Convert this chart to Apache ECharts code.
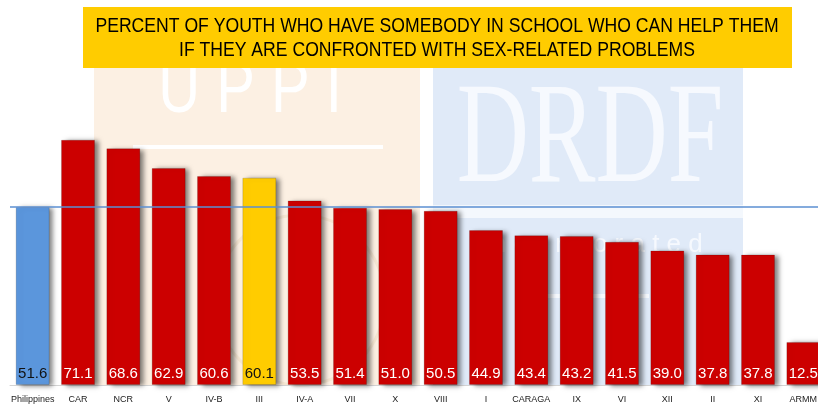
<!DOCTYPE html>
<html>
<head>
<meta charset="utf-8">
<script src="https://cdn.jsdelivr.net/npm/echarts@6/dist/echarts.min.js"></script>
<style>
  html, body { margin: 0; padding: 0; background: #fff; overflow: hidden; }
  /* plot runs a few px past the right edge, like the original slide */
  #chart { width: 826px; height: 406px; }
</style>
</head>
<body>
<div id="chart"></div>
<script>
var regions = ['Philippines', 'CAR', 'NCR', 'V', 'IV-B', 'III', 'IV-A', 'VII', 'X', 'VIII', 'I', 'CARAGA', 'IX', 'VI', 'XII', 'II', 'XI', 'ARMM'];
var percents = [51.6, 71.1, 68.6, 62.9, 60.6, 60.1, 53.5, 51.4, 51.0, 50.5, 44.9, 43.4, 43.2, 41.5, 39.0, 37.8, 37.8, 12.5];
var nationalAvg = 51.6;
var titleLines = ['PERCENT OF YOUTH WHO HAVE SOMEBODY IN SCHOOL WHO CAN HELP THEM', 'IF THEY ARE CONFRONTED WITH SEX-RELATED PROBLEMS'];

var sans = '"Liberation Sans", Arial, sans-serif';

function barColor(name) {
  if (name == 'Philippines') return '#5b96dc';
  if (name == 'III') return '#ffcc00';
  return '#cc0000';
}

var chart = echarts.init(document.getElementById('chart'));

var data = [];
for (var i = 0; i < regions.length; i++) {
  var dark = regions[i] == 'Philippines' || regions[i] == 'III';
  data.push({
    value: percents[i],
    itemStyle: { color: barColor(regions[i]) },
    label: { color: dark ? '#111' : '#fff' }
  });
}

chart.setOption({
  animation: false,
  graphic: [
    // faint watermark blocks behind the plot
    { type: 'rect', z: -10, shape: { x: 94, y: 68, width: 326, height: 318 }, style: { fill: '#fcf0e3' } },
    { type: 'text', z: -9, x: 250, y: 92, scaleY: 1.25, style: { text: 'U P P I', fill: '#ffffff', font: '58px ' + sans, align: 'center', verticalAlign: 'middle' } },
    { type: 'rect', z: -9, shape: { x: 133, y: 145, width: 250, height: 4 }, style: { fill: '#ffffff' } },
    { type: 'circle', z: -9, shape: { cx: 300, cy: 300, r: 85 }, style: { fill: 'none', stroke: '#f5e6d2', lineWidth: 3 } },
    { type: 'rect', z: -10, shape: { x: 433, y: 68, width: 310, height: 318 }, style: { fill: '#e0eaf8' } },
    { type: 'text', z: -9, x: 590, y: 143, scaleY: 1.45, style: { text: 'DRDF', fill: '#f6f9fe', font: '100px "Liberation Serif", serif', align: 'center', verticalAlign: 'middle' } },
    { type: 'rect', z: -9, shape: { x: 433, y: 205, width: 310, height: 13 }, style: { fill: '#f4f8fd' } },
    { type: 'text', z: -9, x: 590, y: 245, style: { text: 'I n c o r p o r a t e d', fill: '#f6f9fe', font: '26px ' + sans, align: 'center', verticalAlign: 'middle' } },
    { type: 'rect', z: -9, shape: { x: 528, y: 294, width: 121, height: 4 }, style: { fill: '#f6f9fe' } },
    // title box
    { type: 'rect', z: 10, shape: { x: 83, y: 7, width: 709, height: 61 }, style: { fill: '#ffcc00' } },
    { type: 'text', z: 11, x: 437, y: 26, scaleX: 0.88, style: { text: titleLines[0], fill: '#000', font: '20px ' + sans, align: 'center', verticalAlign: 'middle' } },
    { type: 'text', z: 11, x: 437, y: 50, scaleX: 0.88, style: { text: titleLines[1], fill: '#000', font: '20px ' + sans, align: 'center', verticalAlign: 'middle' } }
  ],
  grid: { left: 10, right: 0, top: 40, bottom: 21, containLabel: false },
  xAxis: {
    type: 'category',
    data: regions,
    axisLine: { lineStyle: { color: '#d4d4d4' } },
    axisTick: { show: false },
    axisLabel: { color: '#222', fontSize: 9, fontFamily: sans, margin: 10, interval: 0 }
  },
  yAxis: {
    type: 'value',
    min: 0,
    max: 100,
    show: false,
    splitLine: { show: false }
  },
  series: [{
    type: 'bar',
    data: data,
    barWidth: 34,
    itemStyle: {
      shadowColor: 'rgba(0,0,0,0.5)',
      shadowBlur: 5,
      shadowOffsetX: 4,
      shadowOffsetY: 1,
      borderColor: 'rgba(0,0,0,0.15)',
      borderWidth: 1
    },
    label: {
      show: true,
      position: 'insideBottom',
      distance: 4,
      fontSize: 15,
      fontFamily: sans,
      formatter: function (p) { return p.value.toFixed(1); }
    },
    markLine: {
      silent: true,
      symbol: 'none',
      label: { show: false },
      lineStyle: { color: '#5b8fd2', type: 'solid', width: 1.5 },
      data: [{ yAxis: nationalAvg }]
    }
  }]
});
</script>
</body>
</html>
